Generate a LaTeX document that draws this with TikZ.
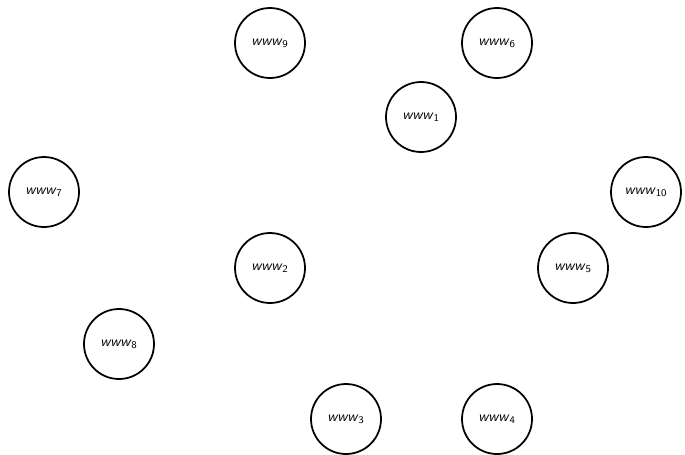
\documentclass[tikz,border=0pt]{standalone}
\usepackage{tikz}
\newcommand{\wname}[1]{\textsf{\textit{www}\textsubscript{\textup{#1}}}}

\begin{document}
\begin{tikzpicture}[
x=0.024cm,
y=-0.024cm,
every node/.style={font=\fontsize{10}{12}\selectfont},
site/.style={circle,draw,line width=1.2pt,minimum size=1.68cm,inner sep=1pt,align=center}
]
\useasboundingbox (0,0) rectangle (685,454);
\node[site] (w9) at (270,43) {\wname{9}};
\node[site] (w6) at (497,43) {\wname{6}};
\node[site] (w1) at (421,117) {\wname{1}};
\node[site] (w7) at (44,192) {\wname{7}};
\node[site] (w10) at (646,192) {\wname{10}};
\node[site] (w2) at (270,268) {\wname{2}};
\node[site] (w5) at (573,268) {\wname{5}};
\node[site] (w8) at (119,344) {\wname{8}};
\node[site] (w3) at (346,419) {\wname{3}};
\node[site] (w4) at (497,419) {\wname{4}};
\end{tikzpicture}
\end{document}
